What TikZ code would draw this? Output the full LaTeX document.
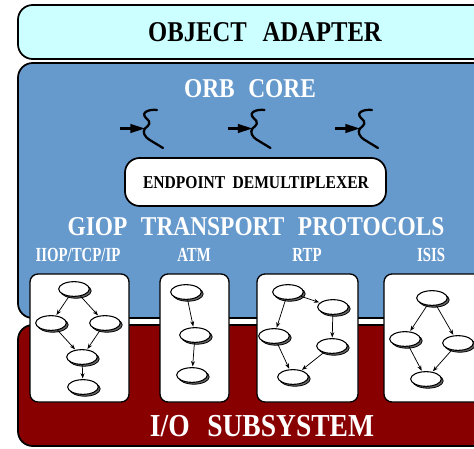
\documentclass[tikz,border=0pt]{standalone}
\usepackage{fontspec}
\setmainfont{Liberation Serif}
\newfontfamily\layerfont[FakeStretch=0.86]{Liberation Serif}
\newfontfamily\protofont[FakeStretch=0.74]{Liberation Serif}
\usetikzlibrary{shapes.geometric,shadows,arrows.meta}

\definecolor{adaptercyan}{RGB}{204,255,255}
\definecolor{coreblue}{RGB}{102,153,204}
\definecolor{iored}{RGB}{136,0,0}

\tikzset{
  layer/.style={draw=black, line width=1.3pt, rounded corners=11pt},
  protobox/.style={draw=black, fill=white, line width=1pt, rounded corners=6pt},
  task/.style={ellipse, draw=black, fill=white, line width=0.8pt, inner sep=0pt,
    minimum width=23pt, minimum height=11pt,
    copy shadow={shadow xshift=1.4pt, shadow yshift=-1.4pt, fill=black!60, draw=black, line width=0.6pt}},
  flow/.style={-{Stealth[length=4pt,width=3pt]}, line width=0.55pt, shorten >=0.5pt},
  inflow/.style={-{Triangle[length=11pt,width=6.5pt]}, line width=1.6pt},
  squig/.style={line width=1.7pt, line cap=round},
  title/.style={anchor=base, inner sep=0pt},
}

\begin{document}
\begin{tikzpicture}[x=0.75pt,y=0.75pt,yscale=-1,xscale=1]
\useasboundingbox (0,0) rectangle (474,449);
\clip (0,0) rectangle (474,449);

%Shape: Rounded Rectangle (object adapter)
\draw [layer, fill=adaptercyan] (18,5) rectangle (500,59);
%Shape: Rounded Rectangle (orb core)
\draw [layer, fill=coreblue] (18,63) rectangle (500,318);
%Shape: Rounded Rectangle (i/o subsystem)
\draw [layer, fill=iored] (18,325) rectangle (500,446);
%Shape: Rounded Rectangle (demultiplexer)
\draw [layer, fill=white] (125,158) rectangle (386,206);

%Shape: Rounded Rectangle (protocol boxes)
\draw [protobox] (30,274) rectangle (129,402);
\draw [protobox] (160,274) rectangle (229,402);
\draw [protobox] (257,274) rectangle (358,402);
\draw [protobox] (384,274) rectangle (500,402);

% Text Node
\node (oa) [title, font=\layerfont\bfseries\fontsize{21.5}{24}\selectfont] at (265,42) {OBJECT\hspace{0.55em}ADAPTER};
% Text Node
\node (orb) [title, text=white, font=\layerfont\bfseries\fontsize{20.4}{23}\selectfont] at (250,98) {ORB\hspace{0.5em}CORE};
% Text Node
\node (demux) [title, font=\layerfont\bfseries\fontsize{13.6}{16}\selectfont] at (256,188) {ENDPOINT\hspace{0.4em}DEMULTIPLEXER};
% Text Node
\node (giop) [title, text=white, font=\layerfont\bfseries\fontsize{20.4}{23}\selectfont] at (256,235) {GIOP\hspace{0.5em}TRANSPORT\hspace{0.5em}PROTOCOLS};
% Text Node
\node (io) [title, text=white, font=\layerfont\bfseries\fontsize{24}{27}\selectfont] at (262,436) {I/O\hspace{0.55em}SUBSYSTEM};

% Text Node (protocol names)
\foreach \px/\pname/\ptxt in {78/iiop/{IIOP/TCP/IP}, 194/atm/ATM, 307/rtp/RTP, 431/isis/ISIS}
  \node (\pname) [title, text=white, font=\protofont\bfseries\fontsize{15}{17}\selectfont] at (\px,261.5) {\ptxt};

% incoming requests
\foreach \x [count=\i] in {0,107.5,215} {
  \coordinate (rq\i) at (120+\x,128.5);
  \coordinate (ep\i) at (145+\x,128.5);
  \draw [inflow] (rq\i) -- (ep\i);
  \draw [squig] (157+\x,110) .. controls (150+\x,109) and (140+\x,112) .. (146+\x,118)
    .. controls (152+\x,123) and (149+\x,125) .. (145+\x,128.5)
    .. controls (142+\x,132) and (145+\x,137) .. (149+\x,139.5) -- (163+\x,148);
}

% IIOP/TCP/IP graph
\node (a1) [task] at (74,289) {};
\node (a2) [task] at (51,323) {};
\node (a3) [task] at (105,323) {};
\node (a4) [task] at (82,357) {};
\node (a5) [task] at (83,387) {};
\draw [flow] (a1) -- (a2);
\draw [flow] (a1) -- (a3);
\draw [flow] (a2) -- (a4);
\draw [flow] (a3) -- (a4);
\draw [flow] (a4) -- (a5);

% ATM graph
\node (b1) [task] at (186,292) {};
\node (b2) [task] at (195,335) {};
\node (b3) [task] at (192,375) {};
\draw [flow] (b1) -- (b2);
\draw [flow] (b2) -- (b3);

% RTP graph
\node (c1) [task] at (288,292) {};
\node (c2) [task] at (333,307) {};
\node (c3) [task] at (274,336) {};
\node (c4) [task] at (332,346) {};
\node (c5) [task] at (293,377) {};
\draw [flow] (c1) -- (c2);
\draw [flow] (c1) -- (c3);
\draw [flow] (c2) -- (c4);
\draw [flow] (c3) -- (c5);
\draw [flow] (c4) -- (c5);

% ISIS graph
\node (d1) [task] at (432,298) {};
\node (d2) [task] at (405,339) {};
\node (d3) [task] at (458,343) {};
\node (d4) [task] at (426,379) {};
\draw [flow] (d1) -- (d2);
\draw [flow] (d1) -- (d3);
\draw [flow] (d2) -- (d4);
\draw [flow] (d3) -- (d4);

\end{tikzpicture}
\end{document}
